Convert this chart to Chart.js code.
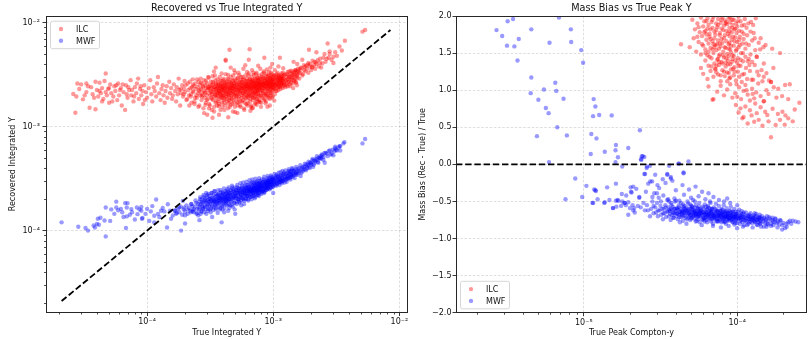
<!DOCTYPE html>
<html>
<head>
<meta charset="utf-8">
<title>Recovered vs True Integrated Y / Mass Bias vs True Peak Y</title>
<script src="https://cdn.jsdelivr.net/npm/chart.js@4.4.1/dist/chart.umd.min.js"></script>
<style>
html,body{margin:0;padding:0;background:#fff;overflow:hidden;}
#fig{position:relative;width:809px;height:339px;background:#fff;overflow:hidden;}
#leftBox{position:absolute;left:0;top:0;width:410px;height:339px;}
#rightBox{position:absolute;left:410px;top:0;width:399px;height:339px;}
canvas{display:block;}
</style>
</head>
<body>
<div id="fig">
  <div id="leftBox"><canvas id="left" width="410" height="339"></canvas></div>
  <div id="rightBox"><canvas id="right" width="399" height="339"></canvas></div>
</div>
<script>
// ---------------- DATA ----------------
// Left panel: pairs [True Integrated Y / 1e-4, Recovered Integrated Y / 1e-3] for ILC
const ILC_INTEGRATED = [
[0.26,2.06],[0.27,1.36],[0.28,2.6],[0.275,1.95],[0.30,2.55],[0.31,1.83],[0.33,2.6],[0.33,2.15],[0.35,1.52],[0.36,2.4],[0.37,2.05],[0.39,1.47],[0.39,2.7],[0.40,2.25],[0.41,1.95],[0.42,2.65],[0.43,2.1],[0.44,2.35],[0.45,1.85],[0.46,2.75],[0.47,3.25],[0.48,2.0],[0.49,2.3],[0.50,1.7],[0.51,2.55],[0.52,2.1],[0.54,1.95],[0.55,2.45],[0.56,2.2],[0.58,1.8],[0.59,2.6],[0.60,2.0],[0.62,2.35],[0.63,1.6],[0.65,2.15],[0.67,1.45],[0.68,2.5],[0.70,1.9],[0.72,2.25],[0.74,2.8],[0.75,2.0],[0.78,1.75],[0.80,2.4],[0.82,2.1],[0.85,2.9],[0.86,1.85],[0.88,2.3],[0.90,2.0],[0.93,1.65],[0.95,2.5],[0.98,2.15],
[0.29,2.3],[0.32,2.0],[0.34,2.45],[0.38,1.9],[0.42,2.2],[0.44,1.75],[0.47,2.15],[0.5,2.35],[0.53,1.75],[0.57,2.5],[0.61,2.25],[0.64,2.55],[0.69,2.05],[0.71,2.4],[0.76,2.25],[0.79,1.95],[0.83,2.6],[0.89,2.45],[0.92,2.2],[0.96,1.8],
[1.0,1.9],[1.03,2.35],[1.06,2.8],[1.08,2.05],[1.1,1.75],[1.13,2.4],[1.15,2.2],[1.18,1.95],[1.2,2.6],[1.22,3.0],[1.25,2.1],[1.28,1.8],[1.3,2.3],[1.33,2.5],[1.35,2.0],[1.38,1.7],[1.4,2.2],[1.43,2.45],[1.45,1.9],[1.5,2.7],[1.52,2.1],[1.55,2.35],[1.58,1.85],[1.6,2.0],[1.63,2.55],[1.67,2.2],[1.7,1.75],[1.72,2.4],[1.75,2.05],[1.78,2.9],[1.8,2.25],[1.83,1.6],[1.86,2.1],[1.9,2.5],[1.93,1.95],[1.96,2.3],[2.0,2.15],[2.05,1.8],[2.1,2.6],[2.15,2.0],[2.2,2.35],[2.25,1.7],[2.3,2.2],[2.35,2.45],[2.4,1.9],
[2.48,1.9],[2.51,2.4],[2.53,2.1],[2.56,2.7],[2.58,2.2],[2.6,1.6],[2.62,2.5],[2.64,2.0],[2.66,2.9],[2.68,2.3],[2.7,1.8],[2.72,2.1],[2.74,2.6],[2.76,2.0],[2.78,2.4],[2.8,1.5],[2.82,2.2],[2.84,2.8],[2.86,1.9],[2.88,2.15],[2.9,2.5],[2.92,1.7],[2.95,2.35],[2.97,2.0],[2.99,2.6],[3.01,2.25],[3.03,1.85],[3.05,3.0],[3.07,2.4],[3.09,2.1],[3.11,1.65],[3.13,2.45],[3.15,2.3],[3.17,2.0],
[3.19,2.2],[3.2,2.7],[3.22,1.9],[3.24,2.35],[3.26,1.45],[3.28,2.05],[3.3,2.5],[3.31,2.15],[3.33,1.8],[3.35,2.6],[3.37,2.3],[3.39,3.4],[3.41,1.95],[3.42,2.25],[3.44,2.4],[3.46,2.0],[3.48,2.8],[3.49,1.7],[3.5,2.15],[3.52,2.3],[3.53,2.55],[3.55,1.9],[3.57,2.1],[3.58,2.45],[3.6,1.6],[3.61,2.2],[3.63,2.0],[3.64,2.4],[3.66,2.65],[3.67,1.75],[3.69,2.3],[3.7,2.1],[3.72,1.3],
[3.73,2.2],[3.75,2.5],[3.76,1.85],[3.78,2.35],[3.79,2.05],[3.81,2.75],[3.82,1.45],[3.84,2.15],[3.85,2.45],[3.87,2.3],[3.88,1.95],[3.9,2.6],[3.91,2.0],[3.93,1.7],[3.94,2.4],[3.96,2.25],[3.97,1.9],[3.99,2.55],[4.0,2.1],[4.02,2.35],[4.03,2.8],[4.05,1.8],[4.07,2.3],[4.08,2.0],[4.1,2.5],[4.11,1.85],[4.13,2.7],[4.14,2.15],[4.16,2.4],[4.17,1.6],[4.19,4.4],
[4.21,2.2],[4.23,2.45],[4.25,1.95],[4.27,2.6],[4.29,2.1],[4.31,2.35],[4.33,1.75],[4.35,2.9],[4.37,2.05],[4.39,2.3],[4.41,2.55],[4.43,2.0],[4.45,2.15],[4.47,1.8],[4.49,2.7],[4.51,2.4],[4.53,1.55],[4.55,2.25],[4.5,5.5],[4.57,2.35],[4.59,2.1],[4.61,2.6],[4.63,1.9],[4.65,2.45],[4.67,2.2],[4.69,2.5],[4.71,1.85],[4.73,2.75],[4.75,2.05],[4.77,2.3],[4.79,1.4],[4.81,3.1],
[4.83,2.35],[4.85,2.15],[4.87,2.6],[4.89,1.95],[4.91,2.45],[4.93,1.7],[4.95,2.25],[4.97,2.85],[4.99,2.0],[5.01,2.4],[5.04,2.1],[5.07,2.65],[5.1,1.85],[5.13,2.3],[5.16,2.5],[5.19,2.0],[5.22,1.6],[5.25,2.9],[5.28,2.2],[5.31,2.25],[5.34,2.55],[5.37,1.95],[5.4,2.4],[5.43,2.7],[5.46,2.1],[5.49,1.75],[5.52,2.35],[5.55,3.0],
[5.58,2.5],[5.61,2.2],[5.64,2.0],[5.67,2.65],[5.7,2.35],[5.73,1.8],[5.76,2.45],[5.79,2.85],[5.82,2.1],[5.85,1.5],[5.88,2.3],[5.91,2.6],[5.94,2.05],[5.97,2.4],[6.0,1.9],[6.03,2.75],[6.06,2.2],[6.09,2.5],[6.12,1.65],[6.15,2.45],[6.18,2.15],[6.21,2.7],[6.24,2.3],[6.27,1.95],[6.3,2.55],[6.33,2.0],[6.36,3.1],[6.39,2.35],
[6.42,2.4],[6.45,2.6],[6.48,2.1],[6.51,2.85],[6.54,2.25],[6.57,1.85],[6.6,2.5],[6.63,2.0],[6.66,2.7],[6.69,1.6],[6.72,2.55],[6.75,2.3],[6.78,2.0],[6.81,2.75],[6.84,2.4],[6.87,2.15],[6.9,1.9],[6.93,2.6],[6.96,3.3],[6.99,2.35],[7.02,2.65],[7.05,2.1],[7.08,2.5],[7.11,2.9],[7.14,1.95],[7.17,2.45],[7.2,2.2],[7.23,1.7],
[7.26,2.5],[7.29,2.3],[7.32,2.7],[7.35,2.05],[7.38,2.6],[7.41,2.4],[7.44,1.85],[7.47,2.95],[7.5,2.2],[7.53,2.4],[7.56,2.75],[7.59,2.2],[7.62,2.55],[7.65,2.0],[7.68,2.35],[7.71,2.85],[7.74,1.75],[7.77,2.6],[7.8,2.6],[7.84,2.3],[7.88,2.45],[7.92,2.9],[7.96,2.1],[8.0,2.7],[8.04,1.95],[8.08,2.5],[8.12,2.25],[8.16,3.2],
[8.2,2.45],[8.24,2.7],[8.28,2.2],[8.32,2.55],[8.36,2.35],[8.4,2.95],[8.44,2.0],[8.48,2.6],[8.52,1.8],[8.56,2.5],[8.6,2.8],[8.64,2.3],[8.68,2.65],[8.72,2.1],[8.76,2.45],[8.8,3.05],[8.84,2.0],[8.88,2.6],[8.92,2.6],[8.96,2.35],[9.0,2.85],[9.04,2.5],[9.08,2.2],[9.12,2.7],[9.16,1.9],[9.2,3.1],[9.24,2.4],
[9.28,2.55],[9.32,2.75],[9.36,2.3],[9.4,2.95],[9.44,2.45],[9.48,2.1],[9.52,2.65],[9.56,2.0],[9.6,3.3],[9.64,2.7],[9.68,2.4],[9.72,2.9],[9.76,2.55],[9.8,2.2],[9.84,2.8],[9.88,2.5],[9.92,1.95],[9.96,2.6],[10.0,2.85],[10.05,2.4],[10.1,2.7],[10.15,3.1],[10.2,2.3],[10.25,2.55],[10.3,2.05],
[10.35,2.75],[10.4,2.5],[10.45,2.95],[10.5,2.6],[10.55,2.35],[10.6,3.2],[10.65,2.2],[10.7,2.65],[10.75,2.9],[10.8,2.45],[10.85,2.8],[10.9,2.55],[10.95,3.05],[11.0,2.25],[11.05,2.8],[11.1,2.55],[11.15,3.0],[11.2,2.7],[11.25,2.4],[11.3,2.9],[11.35,2.65],[11.4,2.7],[11.45,2.95],[11.5,2.5],[11.55,3.1],[11.6,2.6],[11.65,2.85],
[11.7,2.8],[11.75,2.6],[11.8,3.0],[11.85,2.45],[11.9,2.75],[11.95,3.3],[12.0,2.9],[12.1,2.65],[12.2,3.15],[12.3,2.5],[12.4,2.8],[12.5,2.4],[12.6,2.75],[12.7,3.0],[12.8,2.6],[12.9,3.2],[13.0,2.45],[13.1,2.9],[13.2,3.1],[13.3,2.7],[13.4,3.4],[13.5,2.55],[13.6,3.0],[13.7,2.8],[13.8,3.25],[13.9,2.65],
[14.0,2.85],[14.1,3.1],[14.2,3.4],[14.3,2.6],[14.4,2.35],[14.5,3.0],[14.6,3.3],[14.7,2.75],[14.8,3.15],[14.9,2.9],[15.0,3.5],[15.1,2.7],[15.2,3.05],[15.3,3.35],[15.4,2.5],[15.5,3.2],[15.6,2.95],[15.7,3.6],
[3.5,3.7],[4.2,4.3],[6.4,4.4],[6.5,5.55],[8.5,4.6],[11.3,4.6],[3.0,1.3],[3.3,1.22],[4.4,1.23],[5.2,1.35],[6.8,1.5],[9.0,1.55],
[14.5,4.2],[15.5,4.0],[15,3.5],[16,3.3],[16.5,3.7],[17,4.4],[17,3.1],[17.5,3.9],[18,3.4],[18.5,3.6],[19,4.1],[19.2,5.5],[19.5,3.8],[20,3.5],[20.5,4.3],[21,3.9],[21.5,3.6],[22,5.2],[22,4.0],[23,3.8],[23.5,4.5],[24,3.7],[25.5,5.0],[26,4.2],[27,6.3],[28,5.0],[29,4.4],[30,4.1],[31,5.2],[33.5,5.9],[37,6.7],[51,8.2],[53.5,8.5],[16.2,3.55],[17.8,3.75],[18.8,3.95],[20.3,3.7],[21.8,4.15],[24.5,4.05],[27.5,4.6],[32,4.8],[35,5.4]
];
// Left panel, ILC dense core and its fringes (same units)
const ILC_INTEGRATED_CORE = [
[2.23,2.05],[2.31,2.55],[2.37,1.75],[2.44,2.3],[2.49,2.85],[2.55,1.55],[2.61,2.25],[2.67,2.65],[2.71,1.95],[2.79,2.45],[2.83,1.35],[2.89,2.1],[2.93,2.75],[2.98,1.8],[3.04,2.35],[3.08,2.95],[3.14,1.6],[3.18,2.5],[3.23,2.15],[3.27,1.85],[3.32,2.7],[3.36,2.4],[3.4,1.55],[3.45,3.1],[3.47,2.05],[3.51,2.6],[3.54,1.75],[3.59,2.35],[3.62,2.85],[3.65,1.95],[3.68,2.55],[3.71,2.2],[3.74,1.65],[3.77,3.0],[3.8,2.1],[3.83,2.5],[3.86,1.9],[3.89,2.75],[3.92,2.25],[3.95,1.55],[3.98,2.45],[4.01,2.0],[4.04,2.9],[4.06,2.2],[4.09,1.7],[4.12,2.6],[4.15,2.35],[4.18,1.95],[4.2,3.2],[4.24,2.15],[4.26,2.7],[4.3,1.85],[4.32,2.5],[4.36,2.25],[4.38,1.5],[4.42,2.85],[4.44,2.05],[4.48,2.4],[4.5,1.9],[4.54,2.65],[4.56,2.2],[4.6,1.75],[4.62,3.0],[4.66,2.35],[4.68,2.0],[4.72,2.55],[4.74,1.65],[4.78,2.8],[4.8,2.15],[4.84,2.45],[4.86,1.8],[4.9,2.6],[4.92,2.3],[4.96,1.55],[4.98,3.3],
[5.02,2.1],[5.05,2.75],[5.08,1.95],[5.11,2.5],[5.14,2.25],[5.17,1.7],[5.2,2.95],[5.23,2.4],[5.26,2.05],[5.29,2.65],[5.32,1.85],[5.35,2.3],[5.38,3.15],[5.41,2.15],[5.44,2.55],[5.47,1.6],[5.5,2.8],[5.53,2.2],[5.56,2.45],[5.59,1.9],[5.62,2.7],[5.65,2.35],[5.68,1.75],[5.71,3.0],[5.74,2.1],[5.77,2.6],[5.8,2.25],[5.83,1.95],[5.86,2.85],[5.89,2.4],[5.92,1.7],[5.95,2.55],[5.98,2.15],
[6.02,3.1],[6.05,2.3],[6.08,1.85],[6.11,2.65],[6.14,2.45],[6.17,2.0],[6.2,2.9],[6.23,1.6],[6.26,2.5],[6.29,2.2],[6.32,2.75],[6.35,1.9],[6.38,2.4],[6.41,3.25],[6.44,2.05],[6.47,2.6],[6.5,2.3],[6.53,1.75],[6.56,2.85],[6.59,2.45],[6.62,2.15],[6.65,1.55],[6.68,2.7],[6.71,2.35],[6.74,3.0],[6.77,1.95],[6.8,2.5],[6.83,2.2],[6.86,2.8],[6.89,1.8],[6.92,2.4],[6.95,2.65],[6.98,2.1],
[7.01,3.15],[7.04,2.3],[7.07,1.9],[7.1,2.75],[7.13,2.5],[7.16,2.15],[7.19,1.65],[7.22,2.9],[7.25,2.4],[7.28,2.05],[7.31,2.6],[7.34,1.85],[7.37,3.3],[7.4,2.3],[7.43,2.7],[7.46,2.2],[7.49,1.75],[7.52,2.95],[7.55,2.5],[7.58,2.1],[7.61,2.8],[7.64,1.95],[7.67,2.45],[7.7,2.65],[7.73,2.25],[7.76,3.1],[7.79,1.8],[7.83,2.55],[7.87,2.35],[7.91,2.0],[7.95,2.85],[7.99,2.6],
[8.03,1.7],[8.07,2.4],[8.11,3.0],[8.15,2.2],[8.19,2.7],[8.23,1.9],[8.27,2.5],[8.31,2.95],[8.35,2.1],[8.39,2.6],[8.43,3.4],[8.47,2.35],[8.51,1.85],[8.55,2.75],[8.59,2.45],[8.63,2.05],[8.67,2.9],[8.71,2.55],[8.75,1.75],[8.79,3.2],[8.83,2.3],[8.87,2.7],[8.91,2.15],[8.95,2.85],[8.99,1.95],
[9.03,2.6],[9.07,3.05],[9.11,2.4],[9.15,2.0],[9.19,2.8],[9.23,2.5],[9.27,3.35],[9.31,2.2],[9.35,2.65],[9.39,1.85],[9.43,2.9],[9.47,2.45],[9.51,3.1],[9.55,2.3],[9.59,2.7],[9.63,2.1],[9.67,2.95],[9.71,2.55],[9.75,1.9],[9.79,3.2],[9.83,2.4],[9.87,2.8],[9.91,2.25],[9.95,3.0],[9.99,2.6],
[10.1,2.35],[10.2,3.1],[10.3,2.5],[10.4,2.85],[10.5,2.2],[10.6,3.0],[10.7,2.6],[10.8,3.3],[10.9,2.4],[11.0,2.75],[11.1,3.15],[11.2,2.45],[11.3,2.95],[11.4,2.3],[11.5,2.8],[11.6,3.25],[11.7,2.55],[11.8,2.9],[11.9,2.35],[12.0,3.05],[12.2,2.6],[12.4,3.2],[12.6,2.5],[12.8,2.85],[13.0,3.35],[13.2,2.7],[13.4,3.0],[13.6,2.45],[13.8,3.45],[14.0,2.95],[14.3,3.2],[14.6,2.8],[14.9,3.4],[15.2,2.65],[15.5,3.1],[15.8,3.45],[16.1,2.9],[16.4,3.3],[16.8,3.65],[17.2,3.2],[17.6,3.5],[18.2,3.85],[19.0,3.3],[19.6,4.0],[20.4,3.75],[21.2,4.2],[22.5,4.35],[23.5,4.1],[25,4.6],[26.5,4.5],[28,5.3],[30,4.7],
[2.9,1.62],[3.4,1.4],[3.7,1.58],[4.1,1.45],[4.6,1.62],[5.0,1.38],[5.5,1.55],[5.9,1.45],[6.3,1.68],[6.9,1.52],[7.4,1.62],[8.0,1.55],[8.7,1.68],[9.4,1.6],[10.2,1.78],[3.1,1.5],[4.4,1.68],[5.3,1.72],[6.6,1.42],[7.8,1.72],
[3.3,3.05],[3.9,3.25],[4.4,3.15],[4.9,3.5],[5.3,3.3],[5.8,3.6],[6.2,3.35],[6.8,3.5],[7.3,3.2],[7.9,3.6],[8.4,3.3],[8.9,3.55],[9.5,3.7],[10.3,3.5],[11.0,3.8],[12.0,3.65],[4.6,3.7],[6.0,3.9],[7.6,3.85],[9.8,4.0],
[1.85,2.3],[1.95,2.05],[2.02,2.5],[2.08,1.85],[2.12,2.25],[2.18,2.7],[2.22,1.95],[2.27,2.4],[2.33,2.15],[2.38,1.65],[2.42,2.6],[2.46,2.0],[1.98,2.75],[2.16,1.6],[2.3,2.85]
];
// Left panel: pairs [True Integrated Y / 1e-4, Recovered Integrated Y / 1e-4] for MWF
const MWF_INTEGRATED = [
[0.21,1.2],[0.285,1.09],[0.325,1.06],[0.34,1.0],[0.377,1.12],[0.386,1.07],[0.415,1.14],[0.407,1.3],[0.427,1.33],[0.46,1.25],[0.47,1.67],[0.47,0.88],[0.51,1.24],[0.52,1.6],[0.57,1.9],[0.57,1.67],[0.59,1.57],[0.635,1.5],[0.67,1.84],[0.70,1.84],[0.69,1.67],[0.69,1.37],[0.68,1.06],[0.75,1.61],[0.76,1.5],[0.83,1.67],[0.90,1.69],[0.84,1.44],[0.90,1.55],[0.91,1.3],[0.92,1.32],[1.04,1.24],[1.07,1.53],[1.18,1.99],[1.14,1.39],[1.14,1.2],[1.29,1.55],[1.37,1.53],[1.46,1.79],[1.44,1.07],[1.6,1.4],[1.67,1.56],[1.8,1.67],[1.86,1.0],[1.92,1.93],[2.0,1.4],[2.0,1.17],[2.1,1.6],[2.23,1.79],[2.3,1.53],[2.5,1.48],[2.6,1.26],[0.40,1.16],
[0.55,1.45],[0.62,1.62],[0.65,1.35],[0.73,1.42],[0.8,1.28],[0.87,1.6],[0.97,1.45],[1.0,1.62],[1.1,1.72],[1.22,1.45],[1.25,1.35],[1.33,1.65],[1.52,1.55],[1.55,1.3],[1.72,1.48],[1.97,1.66],
[1.65,1.55],[1.7,1.45],[1.75,1.62],[1.8,1.5],[1.85,1.7],[1.9,1.42],[1.95,1.6],[2.0,1.52],[2.05,1.75],[2.1,1.45],[2.15,1.65],[2.2,1.55],[2.25,1.8],[2.3,1.6],[2.35,1.5],[2.4,1.7],[2.45,1.85],[2.5,1.62],[2.55,1.4],
[2.58,1.6],[2.6,1.9],[2.62,1.75],[2.64,2.1],[2.66,1.45],[2.68,1.8],[2.7,1.55],[2.72,2.0],[2.74,1.7],[2.76,1.85],[2.78,1.65],[2.8,2.2],[2.82,1.95],[2.84,1.5],[2.86,1.75],[2.88,2.05],[2.9,1.9],[2.92,1.6],[2.94,2.3],[2.96,1.85],[2.98,2.1],[3.0,1.7],[3.02,1.95],[3.04,1.55],[3.06,2.25],
[3.08,1.9],[3.1,1.75],[3.12,2.15],[3.14,2.0],[3.16,1.6],[3.18,1.8],[3.2,2.05],[3.22,1.95],[3.24,1.65],[3.26,2.3],[3.28,1.35],[3.3,1.9],[3.32,2.0],[3.34,1.85],[3.36,2.2],[3.38,1.7],[3.4,1.95],[3.42,2.4],[3.44,1.9],[3.46,2.1],[3.48,1.75],[3.5,2.0],[3.52,1.6],[3.54,2.25],[3.56,1.85],
[3.58,2.0],[3.6,1.8],[3.62,2.2],[3.64,1.95],[3.66,2.45],[3.68,1.7],[3.7,2.1],[3.72,1.95],[3.74,2.15],[3.76,1.85],[3.78,2.05],[3.8,1.65],[3.82,2.3],[3.84,2.05],[3.86,1.9],[3.88,2.2],[3.9,1.75],[3.92,2.0],[3.94,2.35],[3.96,1.6],[3.98,2.1],[4.0,1.95],[4.02,2.25],[4.04,1.8],[4.06,2.05],[4.08,1.5],
[4.1,2.0],[4.12,2.2],[4.14,1.85],[4.16,2.1],[3.9,1.2],[4.18,2.4],[4.2,1.95],[4.22,2.1],[4.24,1.9],[4.26,2.3],[4.28,2.0],[4.3,1.75],[4.32,2.2],[4.34,2.5],[4.36,2.15],[4.38,1.95],[4.4,2.35],[4.42,2.05],[4.44,1.8],[4.46,2.25],[4.48,1.65],[4.5,2.0],
[4.53,2.1],[4.56,2.3],[4.59,1.9],[4.62,2.2],[4.65,2.45],[4.68,1.75],[4.71,2.05],[4.74,2.6],[4.77,2.2],[4.8,2.0],[4.83,2.4],[4.86,2.1],[4.89,1.85],[4.92,2.3],[4.95,1.6],[4.98,2.15],[5.01,2.25],[5.04,2.05],[5.07,2.45],[5.1,2.15],[5.13,1.9],[5.16,2.35],[5.19,2.6],[5.22,2.0],
[5.25,2.2],[5.28,2.4],[5.31,2.0],[5.34,2.3],[5.0,1.45],[5.37,2.55],[5.4,2.1],[5.43,1.85],[5.46,2.3],[5.49,2.1],[5.52,2.5],[5.55,2.2],[5.58,1.95],[5.61,2.4],[5.64,2.7],[5.67,2.05],[5.7,2.35],[5.73,2.15],[5.76,2.55],[5.79,2.25],[5.82,2.0],[5.85,2.45],[5.88,1.8],[5.91,2.3],
[5.94,2.4],[5.97,2.2],[6.0,2.6],[6.03,2.3],[6.06,2.05],[6.09,2.5],[6.12,2.75],[6.15,2.15],[6.18,2.35],[6.21,2.55],[6.24,2.15],[6.27,2.45],[6.3,2.25],[6.33,2.0],[6.36,2.65],[6.39,2.4],[6.42,2.4],[6.45,2.6],[6.48,2.2],[6.51,2.5],[6.54,2.35],[6.57,2.85],[6.6,2.1],[6.63,2.45],
[6.66,2.45],[6.69,2.25],[6.72,2.65],[6.75,2.4],[6.78,2.15],[6.81,2.55],[6.84,2.9],[6.87,2.35],[6.9,2.5],[6.93,2.3],[6.96,2.7],[6.99,2.45],[7.02,2.2],[7.05,2.6],[7.08,2.85],[7.11,2.4],[7.14,2.05],[7.17,2.55],[7.2,2.35],[7.23,2.75],[7.26,2.5],[7.29,2.25],[7.32,2.65],[7.35,2.95],[7.38,2.45],
[7.41,2.6],[7.44,2.4],[7.47,2.8],[7.5,2.5],[7.53,2.3],[7.56,2.7],[7.59,2.2],[7.62,2.55],[7.65,2.65],[7.68,2.45],[7.71,2.85],[7.74,2.6],[7.77,2.35],[7.8,2.75],[7.83,3.0],[7.86,2.5],[7.9,2.6],[7.94,2.8],[7.98,2.45],[8.02,2.7],[8.06,2.9],[8.1,2.35],[8.14,2.65],
[8.18,2.7],[8.22,2.5],[8.26,2.9],[8.3,2.65],[8.34,2.4],[8.38,2.8],[8.42,3.1],[8.46,2.3],[8.5,2.75],[8.54,2.55],[8.58,2.95],[8.62,2.7],[8.66,2.45],[8.7,2.85],[8.74,2.6],[8.78,2.8],[8.82,2.6],[8.86,3.0],[8.9,2.7],[8.94,2.5],[8.98,2.9],[9.02,3.2],
[9.06,2.85],[9.1,2.65],[9.14,3.05],[9.18,2.75],[9.22,2.55],[9.26,2.95],[9.3,2.9],[9.36,2.7],[9.42,3.1],[9.48,2.8],[9.54,2.6],[9.6,3.0],[9.66,3.3],[9.72,2.95],[9.78,2.75],[9.84,3.15],[9.9,2.85],[9.96,2.65],[10.0,2.3],[10.05,3.05],
[10.1,3.0],[10.2,2.8],[10.3,3.2],[10.4,2.9],[10.5,3.35],[10.6,2.7],[10.7,3.05],[10.8,2.85],[10.9,3.3],[11.0,2.95],[11.1,3.15],[11.2,2.75],[11.3,3.15],[11.4,2.95],[11.5,3.4],[11.6,3.05],[11.7,2.85],[11.8,3.2],[11.9,3.0],[12.0,3.45],[12.1,3.1],[12.2,3.6],[12.3,2.9],
[12.4,3.3],[12.5,3.1],[12.6,3.5],[12.7,3.2],[12.8,2.95],[12.9,3.35],[13.0,3.15],[13.1,3.6],[13.2,3.25],[13.3,3.75],[13.4,3.45],[13.5,3.25],[13.6,3.7],[13.7,3.1],[13.8,3.5],[13.9,3.3],[14.0,3.75],[14.1,3.4],[14.2,3.9],[14.4,3.55],[14.5,3.4],[14.6,3.8],[14.8,3.2],
[15.0,3.65],[15.1,3.45],[15.2,3.9],[15.3,3.55],[15.6,3.75],[15.9,3.6],[16.2,4.0],[16.5,3.35],[16.8,3.9],[17.1,3.7],[17.4,4.15],[17.7,4.1],[18.0,3.9],[18.3,4.35],[18.6,4.0],[18.9,4.3],[19.2,4.1],[19.5,4.5],[19.8,4.5],[20.1,4.3],[20.4,4.75],[20.7,4.1],
[21.0,4.7],[21.4,4.5],[21.8,4.9],[22.2,4.8],[22.6,4.6],[23.0,5.05],[23.4,4.95],[23.8,5.2],[25.6,4.5],[24.5,5.3],[25.0,5.1],[25.5,5.6],[26.5,5.5],[27.5,5.8],[28.5,5.4],[29.5,6.0],[30.5,5.8],[31,6.2],[33,6.3],[36,6.9],[30,5.3],[34,6.5],[24,4.9],[32,5.9],[33.5,6.5],[34,5.9],[36.7,7.1],[31,6.4],
[51,6.9],[53.5,7.6]
];
// Left panel, MWF dense core (same units)
const MWF_INTEGRATED_CORE = [
[2.22,1.5],[2.29,1.72],[2.36,1.6],[2.42,1.95],[2.47,1.45],[2.53,1.8],[2.59,1.68],[2.63,2.0],[2.69,1.52],[2.73,1.88],[2.77,1.62],[2.81,2.12],[2.87,1.7],[2.91,1.95],[2.95,1.45],[2.99,2.2],[3.03,1.78],[3.07,1.62],[3.11,2.02],[3.15,1.88],[3.19,1.5],[3.23,2.3],[3.27,1.72],[3.31,2.08],[3.35,1.58],[3.39,1.92],[3.43,2.4],[3.47,1.8],[3.51,1.65],[3.55,2.15],[3.59,1.95],[3.63,1.48],[3.67,2.25],[3.71,1.85],[3.75,2.05],[3.79,1.6],[3.83,2.45],[3.87,1.95],[3.91,2.15],[3.95,1.72],[3.99,2.3],
[4.03,1.88],[4.07,2.55],[4.11,1.65],[4.15,2.05],[4.19,2.25],[4.23,1.8],[4.27,2.4],[4.31,1.95],[4.35,2.15],[4.39,1.55],[4.43,2.6],[4.47,2.0],[4.51,2.3],[4.55,1.75],[4.59,2.45],[4.63,2.1],[4.67,1.9],[4.71,2.7],[4.75,2.25],[4.79,1.7],[4.83,2.5],[4.87,2.05],[4.91,2.35],[4.95,1.85],[4.99,2.6],
[5.04,2.15],[5.09,2.45],[5.14,1.8],[5.19,2.75],[5.24,2.3],[5.29,2.0],[5.34,2.55],[5.39,1.9],[5.44,2.4],[5.49,2.85],[5.54,2.2],[5.59,1.75],[5.64,2.6],[5.69,2.35],[5.74,2.05],[5.79,2.9],[5.84,2.45],[5.89,1.95],[5.94,2.7],[5.99,2.25],
[6.04,2.55],[6.09,2.0],[6.14,2.95],[6.19,2.4],[6.24,2.15],[6.29,2.75],[6.34,1.95],[6.39,2.6],[6.44,2.3],[6.49,3.05],[6.54,2.5],[6.59,2.1],[6.64,2.8],[6.69,2.4],[6.74,2.0],[6.79,2.65],[6.84,3.1],[6.89,2.3],[6.94,2.55],[6.99,2.15],
[7.04,2.9],[7.09,2.45],[7.14,2.7],[7.19,2.1],[7.24,3.15],[7.29,2.6],[7.34,2.35],[7.39,2.85],[7.44,2.2],[7.49,2.5],[7.54,3.0],[7.59,2.4],[7.64,2.75],[7.69,2.15],[7.74,3.2],[7.79,2.55],[7.84,2.3],[7.89,2.9],[7.94,2.45],[7.99,2.7],
[8.05,2.25],[8.12,3.1],[8.19,2.6],[8.26,2.4],[8.33,2.95],[8.4,2.5],[8.47,3.3],[8.54,2.35],[8.61,2.8],[8.68,2.6],[8.75,3.05],[8.82,2.45],[8.89,2.9],[8.96,2.7],[9.03,3.35],[9.1,2.55],[9.17,3.0],[9.24,2.75],[9.31,3.2],[9.38,2.5],[9.45,2.95],[9.52,2.8],[9.59,3.4],[9.66,2.6],[9.73,3.1],[9.8,2.85],[9.87,3.25],[9.94,2.65],
[10.05,3.15],[10.15,2.9],[10.25,3.5],[10.35,2.75],[10.45,3.2],[10.55,3.0],[10.65,3.45],[10.75,2.8],[10.85,3.3],[10.95,3.05],[11.05,3.6],[11.15,2.9],[11.25,3.35],[11.35,3.1],[11.45,3.65],[11.55,2.95],[11.65,3.4],[11.75,3.2],[11.85,3.75],[11.95,3.0],
[12.1,3.5],[12.3,3.25],[12.5,3.8],[12.7,3.1],[12.9,3.55],[13.1,3.35],[13.3,3.9],[13.5,3.2],[13.7,3.65],[13.9,3.45],[14.1,4.0],[14.3,3.3],[14.6,3.75],[14.9,3.55],[15.2,4.1],[15.5,3.45],[15.8,3.9],[16.1,3.7],[16.4,4.25],[16.7,3.6],[17.0,4.05],[17.4,3.85],[17.8,4.4],[18.2,3.8],[18.6,4.2],[19.0,4.6],[19.5,4.0],[20.0,4.4],[20.5,4.9],[21.0,4.3],[21.6,4.7],[22.2,5.2],[22.8,4.5],[23.5,5.0],[24.2,5.4],[25,4.8],[26,5.6],[27,5.2],[28,5.9],[29,5.5],[31.5,6.0]
];
// Right panel: pairs [True Peak Compton-y / 1e-5, Mass Bias] for ILC (points inside the -2..2 window)
const ILC_PEAK_BIAS = [
[5.1,1.95],[5.3,1.82],[5.5,1.9],[5.7,1.78],[5.8,1.98],[6.0,1.86],[6.1,1.93],[6.2,1.8],[6.4,1.97],[6.5,1.88],[6.6,1.76],[6.8,1.92],[6.9,1.84],[7.0,1.99],[7.1,1.79],[7.3,1.9],[7.4,1.85],[7.5,1.96],[7.7,1.77],[7.8,1.91],[7.9,1.83],[8.0,1.98],[8.2,1.87],[8.3,1.94],[8.5,1.8],[8.6,1.89],[8.8,1.97],[8.9,1.84],[9.0,1.92],[9.2,1.78],[9.3,1.88],[9.5,1.95],[9.6,1.82],[9.8,1.9],[10,1.86],[10.2,1.99],[10.3,1.8],[10.5,1.93],[10.7,1.87],[11,1.76],[11.2,1.96],[11.5,1.84],[11.8,1.9],[12.2,1.79],[12.7,1.88],[13.2,1.97],
[4.3,1.62],[4.9,1.58],[5.2,1.7],[5.4,1.52],[5.6,1.65],[5.8,1.48],[5.9,1.73],[6.0,1.6],[6.2,1.55],[6.3,1.68],[6.4,1.47],[6.5,1.63],[6.6,1.72],[6.7,1.57],[6.9,1.66],[7.0,1.5],[7.1,1.7],[7.2,1.61],[7.3,1.54],[7.5,1.67],[7.6,1.46],[7.7,1.74],[7.8,1.59],[8.0,1.64],[8.1,1.52],[8.2,1.7],[8.4,1.57],[8.5,1.66],[8.6,1.49],[8.8,1.62],[8.9,1.73],[9.0,1.55],[9.2,1.68],[9.3,1.47],[9.5,1.6],[9.7,1.71],[9.8,1.53],[10,1.65],[10.2,1.58],[10.4,1.72],[10.6,1.5],[10.8,1.63],[11,1.69],[11.3,1.56],[11.6,1.74],[11.9,1.61],[12.2,1.48],[12.5,1.67],[12.8,1.77],[13.1,1.54],[13.4,1.45],[13.8,1.64],[14.2,1.7],[14.8,1.58],[15.3,1.61],[16.9,1.56],[19,1.5],
[5.8,1.3],[6.0,1.22],[6.2,1.4],[6.4,1.15],[6.5,1.33],[6.7,1.26],[6.8,1.43],[7.0,1.18],[7.1,1.36],[7.2,1.29],[7.4,1.41],[7.5,1.21],[7.6,1.34],[7.8,1.12],[7.9,1.38],[8.0,1.27],[8.2,1.44],[8.3,1.19],[8.4,1.32],[8.6,1.24],[8.7,1.4],[8.9,1.16],[9.0,1.35],[9.1,1.28],[9.3,1.42],[9.5,1.2],[9.6,1.31],[9.8,1.13],[10,1.37],[10.1,1.25],[10.3,1.18],[10.5,1.33],[10.7,1.11],[10.9,1.39],[11.1,1.22],[11.4,1.3],[11.6,1.15],[11.9,1.42],[12.1,1.26],[12.4,1.14],[12.7,1.14],[13,1.34],[13.4,1.45],[13.8,1.2],[14.4,1.27],[14.9,1.36],[14.9,1.18],[15.5,1.23],[16.1,1.13],[16.6,1.11],[17.2,1.3],[12.5,1.38],[8.8,1.23],[7.3,1.24],[9.4,1.29],
[6.5,1.05],[6.9,0.87],[7.0,0.88],[7.4,0.98],[7.8,1.06],[8.2,0.93],[8.6,1.01],[9.0,1.08],[9.3,0.9],[9.7,0.96],[10,0.91],[10.3,1.04],[10.6,0.88],[11,0.99],[11.3,1.07],[11.7,0.94],[12.1,0.86],[12.5,1.02],[12.9,0.89],[13.3,0.97],[13.7,1.09],[14.2,0.92],[14.9,0.85],[15.5,1.0],[16,0.95],[16.6,1.11],[17.3,1.04],[18,0.9],[19.6,0.92],[20.5,1.07],[22,1.08],[21.5,0.88],[18.5,1.02],
[9.8,0.8],[10.2,0.7],[10.5,0.755],[10.8,0.62],[11,0.64],[11.3,0.78],[11.7,0.55],[12.1,0.73],[12.4,0.66],[12.9,0.575],[13.1,0.82],[13.4,0.69],[13.8,0.6],[14.2,0.77],[14.6,0.52],[14.9,0.85],[15.2,0.71],[15.7,0.665],[16,0.58],[16.6,0.365],[17,0.75],[17.8,0.53],[18.4,0.68],[19,0.6],[19.7,0.71],[20.4,0.535],[20.6,0.66],[21.5,0.62],[23.7,0.74],[25.4,0.83],[23,0.58],
[6.6,1.45],[6.9,1.55],[7.2,1.75],[7.4,1.62],[7.6,1.38],[7.9,1.69],[8.1,1.81],[8.3,1.58],[8.5,1.43],[8.7,1.76],[8.9,1.64],[9.1,1.51],[9.3,1.84],[9.6,1.66],[9.9,1.77],[10.1,1.43],[7.7,1.48],[8.0,1.36],[8.4,1.9],[8.8,1.56],[7.0,1.62],[6.7,1.82],[9.0,1.98],[9.4,1.72],[7.3,1.33],[8.2,1.25],[9.7,1.4],[10.4,1.61],[6.3,1.75],[7.5,1.88],
[5.6,1.85],[5.9,1.62],[6.1,1.78],[6.3,1.93],[6.5,1.52],[6.7,1.69],[6.9,1.95],[7.1,1.58],[7.3,1.81],[7.5,1.42],[7.7,1.63],[7.9,1.95],[8.1,1.47],[8.3,1.74],[8.5,1.92],[8.7,1.35],[8.9,1.79],[9.1,1.6],[9.3,1.95],[9.5,1.46],[9.7,1.83],[9.9,1.55],[10.1,1.93],[10.3,1.68],[10.5,1.41],[10.7,1.79],[10.9,1.5],[11.1,1.88],[11.4,1.63],[11.7,1.39],[7.2,1.28],[7.8,1.2],[8.4,1.37],[9.0,1.17],[9.6,1.25],[10.2,1.33],[10.8,1.21],[11.3,1.45],[12.0,1.34],[6.8,1.32],[6.2,1.5],[5.5,1.72],[8.6,1.12],[9.9,1.08],[11.5,1.0],[12.6,0.95],[13.5,1.25],[14.1,1.55],[14.6,1.12],[13.0,1.7],[12.3,1.92],[8.8,1.46],[7.6,1.56],[9.2,1.38],[6.4,1.83]
];
// Right panel: pairs [True Peak Compton-y / 1e-5, Mass Bias] for MWF
const MWF_PEAK_BIAS = [
[0.27,1.81],[0.294,1.73],[0.319,1.93],[0.346,1.96],[0.316,1.6],[0.353,1.59],[0.377,1.69],[0.37,1.4],[0.455,1.82],[0.455,1.17],[0.451,0.96],[0.495,0.38],[0.506,0.87],[0.55,1.01],[0.566,0.76],[0.59,0.69],[0.598,1.64],[0.593,0.03],[0.652,1.10],[0.662,0.99],[0.672,0.50],[0.689,1.98],[0.738,0.885],[0.776,0.39],[0.824,1.82],[0.828,1.65],[0.962,1.54],[0.99,1.37],[1.11,0.14],[1.15,0.65],[1.16,0.88],[1.19,0.78],[1.12,0.41],[1.26,0.665],[1.21,0.35],[1.37,0.17],[1.52,0.66],[1.61,0.03],[1.62,0.26],[1.61,0.19],[1.67,0.095],[1.78,-0.03],[1.95,0.22],[2.32,0.46],[2.36,0.07],[2.39,0.11],[2.48,0.10],[2.70,-0.02],[2.57,-0.05],[3.6,-0.02],[4.14,0.01],[4.81,0.04],
[2.42,0.11],[2.37,0.06],[2.58,-0.03],[2.51,-0.13],[2.92,-0.14],[3.27,-0.2],[3.41,-0.25],[3.5,-0.13],[3.69,-0.17],[3.78,-0.22],[4.18,0.01],[4.47,-0.11],[2.63,-0.26],[2.79,-0.23],[3.1,-0.32],[3.98,-0.35],[4.4,-0.28],[4.85,-0.34],[5.35,-0.3],[5.9,-0.37],[6.5,-0.39],[3.0,-0.39],[2.54,-0.37],
[2.8,-0.44],[3.3,-0.42],[3.9,-0.46],[4.5,-0.41],[5.0,-0.45],[5.6,-0.43],[6.2,-0.47],[7.0,-0.44],[7.6,-0.48],[8.2,-0.5],[9.0,-0.52],[10.0,-0.55],[8.6,-0.46],[4.2,-0.49],[3.6,-0.5],[5.3,-0.5],[6.7,-0.52],
[0.76,-0.47],[0.88,-0.19],[1.04,-0.29],[0.977,-0.44],[1.15,-0.52],[1.19,-0.35],[1.2,-0.36],[1.23,-0.47],[1.36,-0.52],[1.62,-0.26],[1.47,-0.48],[1.55,-0.59],[1.66,-0.48],[1.77,-0.40],[1.84,-0.52],[1.95,-0.68],[2.03,-0.37],[2.13,-0.59],[2.3,-0.44],[2.48,-0.13],[2.71,-0.23],[2.88,-0.39],[3.02,-0.28],[3.5,-0.14],[3.69,-0.19],[4.47,-0.12],
[1.42,-0.31],[1.17,-0.34],[1.62,-0.49],[1.68,-0.49],[1.78,-0.5],[1.85,-0.52],[1.95,-0.51],[1.55,-0.59],[1.63,-0.57],[1.75,-0.56],[1.88,-0.55],[2.0,-0.59],[2.1,-0.62],[1.89,-0.42],[2.05,-0.38],[1.37,-0.51],[1.14,-0.52],
[2.02,-0.31],[2.1,-0.3],[2.2,-0.33],[2.25,-0.56],[2.08,-0.55],[2.35,-0.58],[2.45,-0.52],[2.3,-0.45],[2.5,-0.62],[2.15,-0.65],
[2.58,-0.55],[2.62,-0.62],[2.75,-0.6],[2.8,-0.5],[2.85,-0.66],[2.92,-0.58],[2.96,-0.65],[3.0,-0.52],[3.04,-0.7],[3.08,-0.45],[3.12,-0.62],[3.16,-0.56],[3.2,-0.68],[3.24,-0.6],[3.28,-0.74],[3.32,-0.6],[3.36,-0.66],[3.4,-0.55],[3.44,-0.71],[3.48,-0.63],[3.5,-0.48],
[3.53,-0.64],[3.56,-0.58],[3.59,-0.7],[3.62,-0.61],[3.65,-0.67],[3.68,-0.75],[3.71,-0.52],[3.74,-0.62],[3.77,-0.68],[3.8,-0.57],[3.83,-0.65],[3.86,-0.72],[3.89,-0.6],[3.92,-0.5],[3.95,-0.66],
[3.98,-0.63],[4.01,-0.7],[4.04,-0.59],[4.07,-0.66],[4.1,-0.74],[4.13,-0.61],[4.16,-0.55],[4.19,-0.68],[4.22,-0.64],[4.25,-0.65],[4.28,-0.6],[4.31,-0.71],[4.34,-0.63],[4.37,-0.68],[4.4,-0.57],[4.43,-0.76],[4.46,-0.62],[4.49,-0.66],
[4.52,-0.64],[4.55,-0.69],[4.58,-0.6],[4.61,-0.72],[4.64,-0.66],[4.67,-0.58],[4.7,-0.74],[4.73,-0.62],[4.76,-0.67],[4.79,-0.53],[4.82,-0.66],[4.85,-0.62],[4.88,-0.7],[4.91,-0.64],[4.94,-0.75],[4.97,-0.6],[5.0,-0.68],[5.03,-0.56],[5.06,-0.72],[5.09,-0.65],
[5.12,-0.65],[5.15,-0.7],[5.18,-0.61],[5.21,-0.67],[5.24,-0.73],[5.27,-0.63],[5.3,-0.58],[5.33,-0.69],[5.36,-0.77],[5.39,-0.66],[5.42,-0.67],[5.45,-0.63],[5.48,-0.71],[5.51,-0.65],[5.54,-0.6],[5.57,-0.74],[5.6,-0.69],[5.63,-0.57],[5.66,-0.66],[5.69,-0.78],[5.72,-0.64],
[5.76,-0.66],[5.8,-0.7],[5.84,-0.62],[5.88,-0.68],[5.92,-0.74],[5.96,-0.64],[6.0,-0.59],[6.04,-0.72],[6.08,-0.67],[6.12,-0.77],[6.16,-0.68],[6.2,-0.64],[6.24,-0.71],[6.28,-0.66],[6.32,-0.75],[6.36,-0.61],[6.4,-0.69],[6.44,-0.73],[6.48,-0.58],[6.52,-0.67],
[6.56,-0.67],[6.6,-0.72],[6.64,-0.63],[6.68,-0.7],[6.72,-0.65],[6.76,-0.77],[6.8,-0.69],[6.84,-0.6],[6.88,-0.74],[6.92,-0.68],[6.96,-0.8],[7.0,-0.69],[7.05,-0.65],[7.1,-0.72],[7.15,-0.67],[7.2,-0.74],[7.25,-0.62],[7.3,-0.7],[7.35,-0.76],[7.4,-0.68],[7.45,-0.64],
[7.5,-0.7],[7.55,-0.66],[7.6,-0.73],[7.65,-0.68],[7.7,-0.76],[7.75,-0.63],[7.8,-0.71],[7.85,-0.69],[7.9,-0.78],[7.95,-0.65],[8.0,-0.69],[8.05,-0.72],[8.1,-0.67],[8.15,-0.74],[8.2,-0.7],[8.25,-0.64],[8.3,-0.77],[8.35,-0.71],[8.4,-0.66],[8.45,-0.8],
[8.5,-0.71],[8.56,-0.68],[8.62,-0.74],[8.68,-0.7],[8.74,-0.66],[8.8,-0.76],[8.86,-0.72],[8.92,-0.63],[8.98,-0.69],[9.04,-0.72],[9.1,-0.69],[9.16,-0.75],[9.22,-0.7],[9.28,-0.67],[9.34,-0.78],[9.4,-0.73],[9.46,-0.65],[9.52,-0.71],[9.58,-0.81],
[9.64,-0.71],[9.7,-0.74],[9.76,-0.69],[9.82,-0.76],[9.88,-0.72],[9.94,-0.67],[10.0,-0.79],[10.1,-0.7],[10.2,-0.73],[10.3,-0.73],[10.4,-0.7],[10.5,-0.76],[10.6,-0.72],[10.7,-0.68],[10.8,-0.78],[10.9,-0.74],[11.0,-0.71],[11.1,-0.82],
[11.2,-0.72],[11.3,-0.75],[11.4,-0.7],[11.5,-0.77],[11.6,-0.73],[11.7,-0.69],[11.8,-0.8],[11.9,-0.74],[12.0,-0.74],[12.1,-0.71],[12.2,-0.77],[12.3,-0.73],[12.4,-0.7],[12.5,-0.79],[12.6,-0.75],[12.7,-0.72],
[12.8,-0.73],[12.9,-0.76],[13.0,-0.71],[13.1,-0.78],[13.2,-0.74],[13.3,-0.7],[13.4,-0.81],[13.5,-0.75],[13.6,-0.75],[13.7,-0.72],[13.8,-0.78],[13.9,-0.74],[14.0,-0.71],[14.1,-0.8],[14.2,-0.76],[14.3,-0.84],[14.4,-0.73],
[14.6,-0.74],[14.8,-0.77],[15.0,-0.72],[15.2,-0.79],[15.4,-0.75],[15.6,-0.7],[15.8,-0.81],[16.0,-0.76],[16.3,-0.73],[16.6,-0.8],[16.9,-0.75],[17.2,-0.82],[17.5,-0.78],[17.8,-0.74],[18.1,-0.79],[18.4,-0.77],[18.8,-0.81],[19.2,-0.76],[19.6,-0.88],[20.0,-0.79],[20.5,-0.86],[21.0,-0.8],[21.5,-0.78],[22.0,-0.76],[23.0,-0.76],[25.0,-0.78],
[17.0,-0.72],[15.5,-0.84],[14.0,-0.68],[13.0,-0.66],[12.0,-0.68],[11.0,-0.65],[10.5,-0.66],[9.8,-0.64]
];
// Right panel, MWF dense core (same units)
const MWF_PEAK_BIAS_CORE = [
[2.7,-0.7],[2.85,-0.56],[3.05,-0.62],[3.18,-0.5],[3.3,-0.66],[3.42,-0.58],[3.55,-0.47],[3.64,-0.63],[3.73,-0.55],[3.82,-0.72],[3.91,-0.6],[4.0,-0.49],[4.08,-0.67],[4.15,-0.58],[4.23,-0.78],[4.3,-0.52],[4.38,-0.64],[4.45,-0.7],[4.52,-0.56],[4.6,-0.62],[4.67,-0.8],[4.74,-0.5],[4.81,-0.6],[4.88,-0.66],[4.95,-0.54],
[5.02,-0.73],[5.09,-0.61],[5.16,-0.48],[5.23,-0.69],[5.3,-0.63],[5.37,-0.55],[5.44,-0.76],[5.51,-0.59],[5.58,-0.67],[5.65,-0.52],[5.72,-0.7],[5.8,-0.62],[5.87,-0.82],[5.94,-0.57],[6.01,-0.65],[6.08,-0.73],[6.15,-0.54],[6.22,-0.68],[6.3,-0.61],[6.37,-0.78],[6.44,-0.56],[6.51,-0.7],[6.58,-0.64],[6.65,-0.5],[6.73,-0.74],[6.8,-0.62],[6.88,-0.67],[6.95,-0.83],
[7.03,-0.58],[7.11,-0.71],[7.19,-0.65],[7.27,-0.53],[7.35,-0.77],[7.43,-0.62],[7.51,-0.69],[7.59,-0.56],[7.67,-0.74],[7.75,-0.66],[7.83,-0.85],[7.91,-0.6],[7.99,-0.72],[8.08,-0.67],[8.17,-0.55],[8.26,-0.78],[8.35,-0.63],[8.44,-0.7],[8.53,-0.59],[8.62,-0.75],[8.71,-0.67],[8.8,-0.83],[8.89,-0.62],[8.98,-0.73],
[9.08,-0.57],[9.18,-0.69],[9.28,-0.77],[9.38,-0.64],[9.48,-0.71],[9.58,-0.6],[9.68,-0.79],[9.78,-0.68],[9.88,-0.74],[9.98,-0.86],[10.1,-0.64],[10.2,-0.72],[10.3,-0.61],[10.4,-0.8],[10.5,-0.69],[10.6,-0.75],[10.7,-0.63],[10.8,-0.71],[10.9,-0.84],[11.0,-0.67],[11.2,-0.76],[11.4,-0.65],[11.6,-0.82],[11.8,-0.7],
[12.0,-0.78],[12.2,-0.66],[12.4,-0.74],[12.6,-0.85],[12.8,-0.69],[13.0,-0.77],[13.3,-0.67],[13.6,-0.82],[13.9,-0.72],[14.2,-0.79],[14.5,-0.7],[14.9,-0.84],[15.3,-0.74],[15.7,-0.8],[16.1,-0.71],[16.6,-0.83],[17.1,-0.77],[17.7,-0.73],[18.3,-0.85],[19.0,-0.75],[19.7,-0.82],[21.0,-0.84],[22.5,-0.8],[24,-0.77],
[4.05,-0.6],[4.35,-0.66],[4.65,-0.63],[4.95,-0.69],[5.25,-0.64],[5.55,-0.7],[5.85,-0.66],[6.15,-0.72],[6.45,-0.68],[6.75,-0.64],[7.05,-0.7],[7.35,-0.73],[7.65,-0.69],[7.95,-0.66],[8.25,-0.72],[8.55,-0.7],[8.85,-0.74],[4.2,-0.71],[4.5,-0.59],[4.8,-0.72],[5.1,-0.58],[5.4,-0.68],[5.7,-0.6],[6.0,-0.75],[6.3,-0.65],[6.6,-0.59],[6.9,-0.72],[7.2,-0.6],[7.5,-0.77],[7.8,-0.62],[8.1,-0.76],[8.4,-0.64],[8.7,-0.71],[9.0,-0.66],[9.3,-0.74],[9.6,-0.7],[3.7,-0.6],[3.85,-0.66],[4.45,-0.54],[5.05,-0.57],[5.65,-0.63],[6.25,-0.57],[6.85,-0.6],[7.45,-0.63],[8.05,-0.61],[8.65,-0.65],[9.25,-0.64],[9.85,-0.67]
];
// reference lines
const IDENTITY_LINE = [2.1e-5, 8.5e-3];     // y = x, from overall min to overall max
const ZERO_BIAS = 0;                         // horizontal no-bias line
// axis limits and ticks
const LEFT_X_LIMITS = [1.58e-5, 1.16e-2];
const LEFT_Y_LIMITS = [1.63e-5, 1.16e-2];
const LEFT_MAJOR_TICKS = [1e-4, 1e-3, 1e-2];
const LEFT_MINOR_TICKS = [2e-5,3e-5,4e-5,5e-5,6e-5,7e-5,8e-5,9e-5,2e-4,3e-4,4e-4,5e-4,6e-4,7e-4,8e-4,9e-4,2e-3,3e-3,4e-3,5e-3,6e-3,7e-3,8e-3,9e-3];
const RIGHT_X_LIMITS = [1.47e-6, 2.84e-4];
const RIGHT_Y_LIMITS = [-2, 2];
const RIGHT_X_MAJOR_TICKS = [1e-5, 1e-4];
const RIGHT_X_MINOR_TICKS = [2e-6,3e-6,4e-6,5e-6,6e-6,7e-6,8e-6,9e-6,2e-5,3e-5,4e-5,5e-5,6e-5,7e-5,8e-5,9e-5,2e-4];
const RIGHT_Y_TICKS = [-2.0,-1.5,-1.0,-0.5,0.0,0.5,1.0,1.5,2.0];

// ---------------- RENDERING ----------------
const FONT = "'DejaVu Sans', 'Liberation Sans', sans-serif";
Chart.defaults.font.family = FONT;
Chart.defaults.color = '#111';
const ILC_COLOR = 'rgba(255,0,0,0.4)';
const MWF_COLOR = 'rgba(0,0,255,0.4)';
const SUP = {'-':'\u207B','0':'\u2070','1':'\u00B9','2':'\u00B2','3':'\u00B3','4':'\u2074','5':'\u2075','6':'\u2076','7':'\u2077','8':'\u2078','9':'\u2079'};
function powerLabel(v){ const e = Math.round(Math.log10(v)); return '10' + String(e).split('').map(c => SUP[c]).join(''); }
function biasLabel(v){ return Number(v).toFixed(1).replace('-', '\u2212'); }
function toPoints(pairs, ux, uy){ return pairs.map(p => ({x: p[0]*ux, y: p[1]*uy})); }

function decorPlugin(cfg){
  return {
    id: 'decor_' + cfg.key,
    afterDraw(chart){
      const ctx = chart.ctx, a = chart.chartArea;
      const xs = chart.scales.x, ys = chart.scales.y;
      ctx.save();
      ctx.strokeStyle = '#222'; ctx.lineWidth = 0.8;
      ctx.beginPath();
      (cfg.xMinor || []).forEach(v => { const p = Math.round(xs.getPixelForValue(v)) + 0.5; ctx.moveTo(p, a.bottom); ctx.lineTo(p, a.bottom + 2); });
      (cfg.yMinor || []).forEach(v => { const p = Math.round(ys.getPixelForValue(v)) + 0.5; ctx.moveTo(a.left, p); ctx.lineTo(a.left - 2, p); });
      ctx.stroke();
      ctx.strokeStyle = '#262626'; ctx.lineWidth = 1;
      const L = Math.floor(a.left) + 0.5, R = Math.floor(a.right) + 0.5, T = Math.floor(a.top) + 0.5, B = Math.floor(a.bottom) + 0.5;
      ctx.strokeRect(L, T, R - L, B - T);
      ctx.fillStyle = '#111';
      ctx.font = '9.7px ' + FONT;
      ctx.textAlign = 'center'; ctx.textBaseline = 'alphabetic';
      ctx.fillText(cfg.title, (a.left + a.right) / 2, 11.4);
      const sets = chart.data.datasets.filter(d => d.inLegend);
      const w = 49, h = 27.5;
      const x0 = a.left + 4;
      const y0 = cfg.legendLoc === 'upper left' ? a.top + 4.7 : a.bottom - 4.4 - h;
      ctx.beginPath();
      if (ctx.roundRect) ctx.roundRect(x0 + 0.5, y0 + 0.5, w, h, 2); else ctx.rect(x0 + 0.5, y0 + 0.5, w, h);
      ctx.fillStyle = 'rgba(255,255,255,0.8)'; ctx.fill();
      ctx.strokeStyle = '#d6d6d6'; ctx.lineWidth = 1; ctx.stroke();
      ctx.font = '8px ' + FONT; ctx.textAlign = 'left';
      sets.forEach((d, i) => {
        const cy = y0 + 8.3 + i * 11.8;
        ctx.beginPath(); ctx.arc(x0 + 11, cy, 2.2, 0, Math.PI * 2);
        ctx.fillStyle = d.backgroundColor; ctx.fill();
        ctx.fillStyle = '#111';
        ctx.fillText(d.label, x0 + 26, cy + 2.9);
      });
      ctx.restore();
    }
  };
}

function gridOpts(){
  return { color: 'rgba(0,0,0,0.16)', lineWidth: 0.8, tickColor: '#222', tickLength: 3.5, tickWidth: 0.9, tickBorderDash: [], drawTicks: true };
}
function borderOpts(){ return { display: false, dash: [2.6, 1.6] }; }

function scatterSet(label, data, color, order){
  return { label, data, backgroundColor: color, pointBackgroundColor: color, pointRadius: 2.2, pointHoverRadius: 2.2, pointBorderWidth: 0, borderWidth: 0, order, clip: 0, inLegend: true };
}

new Chart(document.getElementById('left'), {
  type: 'scatter',
  data: { datasets: [
    scatterSet('ILC', toPoints(ILC_INTEGRATED.concat(ILC_INTEGRATED_CORE), 1e-4, 1e-3), ILC_COLOR, 3),
    scatterSet('MWF', toPoints(MWF_INTEGRATED.concat(MWF_INTEGRATED_CORE), 1e-4, 1e-4), MWF_COLOR, 2),
    { type: 'line', label: '1:1', data: IDENTITY_LINE.map(v => ({x: v, y: v})), borderColor: '#000', borderWidth: 1.8, borderDash: [6.4, 2.8], pointRadius: 0, fill: false, order: 1, clip: 0, inLegend: false }
  ]},
  options: {
    responsive: false, animation: false, events: [],
    layout: { padding: { left: 0, right: 2.5, top: 16, bottom: 0 } },
    plugins: { legend: { display: false }, title: { display: false }, tooltip: { enabled: false } },
    scales: {
      x: { type: 'logarithmic', min: LEFT_X_LIMITS[0], max: LEFT_X_LIMITS[1],
        afterBuildTicks: s => { s.ticks = LEFT_MAJOR_TICKS.map(v => ({value: v})); },
        afterFit: s => { s.height = 26.5; },
        ticks: { autoSkip: false, maxRotation: 0, padding: 1.5, color: '#111', font: { size: 8 }, callback: v => powerLabel(v) },
        grid: gridOpts(), border: borderOpts(),
        title: { display: true, text: 'True Integrated Y', color: '#111', font: { size: 8 }, padding: { top: 0, bottom: 0.8 } } },
      y: { type: 'logarithmic', min: LEFT_Y_LIMITS[0], max: LEFT_Y_LIMITS[1],
        afterBuildTicks: s => { s.ticks = LEFT_MAJOR_TICKS.map(v => ({value: v})); },
        afterFit: s => { s.width = 46; },
        ticks: { autoSkip: false, padding: 2.5, color: '#111', font: { size: 8 }, callback: v => powerLabel(v) },
        grid: gridOpts(), border: borderOpts(),
        title: { display: true, text: 'Recovered Integrated Y', color: '#111', font: { size: 8 }, padding: { top: 7.9, bottom: 0 } } }
    }
  },
  plugins: [decorPlugin({ key: 'l', title: 'Recovered vs True Integrated Y', legendLoc: 'upper left', xMinor: LEFT_MINOR_TICKS, yMinor: LEFT_MINOR_TICKS })]
});

new Chart(document.getElementById('right'), {
  type: 'scatter',
  data: { datasets: [
    scatterSet('ILC', toPoints(ILC_PEAK_BIAS, 1e-5, 1), ILC_COLOR, 3),
    scatterSet('MWF', toPoints(MWF_PEAK_BIAS.concat(MWF_PEAK_BIAS_CORE), 1e-5, 1), MWF_COLOR, 2),
    { type: 'line', label: 'zero bias', data: RIGHT_X_LIMITS.map(v => ({x: v, y: ZERO_BIAS})), borderColor: '#000', borderWidth: 1.8, borderDash: [6.4, 2.8], pointRadius: 0, fill: false, order: 1, clip: 0, inLegend: false }
  ]},
  options: {
    responsive: false, animation: false, events: [],
    layout: { padding: { left: 0, right: 0.5, top: 16, bottom: 0 } },
    plugins: { legend: { display: false }, title: { display: false }, tooltip: { enabled: false } },
    scales: {
      x: { type: 'logarithmic', min: RIGHT_X_LIMITS[0], max: RIGHT_X_LIMITS[1],
        afterBuildTicks: s => { s.ticks = RIGHT_X_MAJOR_TICKS.map(v => ({value: v})); },
        afterFit: s => { s.height = 26.3; },
        ticks: { autoSkip: false, maxRotation: 0, padding: 1.5, color: '#111', font: { size: 8 }, callback: v => powerLabel(v) },
        grid: gridOpts(), border: borderOpts(),
        title: { display: true, text: 'True Peak Compton-y', color: '#111', font: { size: 8 }, padding: { top: 0, bottom: 0.8 } } },
      y: { type: 'linear', min: RIGHT_Y_LIMITS[0], max: RIGHT_Y_LIMITS[1],
        afterBuildTicks: s => { s.ticks = RIGHT_Y_TICKS.map(v => ({value: v})); },
        afterFit: s => { s.width = 46; },
        ticks: { autoSkip: false, padding: 1, color: '#111', font: { size: 8 }, callback: v => biasLabel(v) },
        grid: gridOpts(), border: borderOpts(),
        title: { display: true, text: 'Mass Bias (Rec - True) / True', color: '#111', font: { size: 8 }, padding: { top: 8.2, bottom: 0 } } }
    }
  },
  plugins: [decorPlugin({ key: 'r', title: 'Mass Bias vs True Peak Y', legendLoc: 'lower left', xMinor: RIGHT_X_MINOR_TICKS, yMinor: [] })]
});
</script>
</body>
</html>
